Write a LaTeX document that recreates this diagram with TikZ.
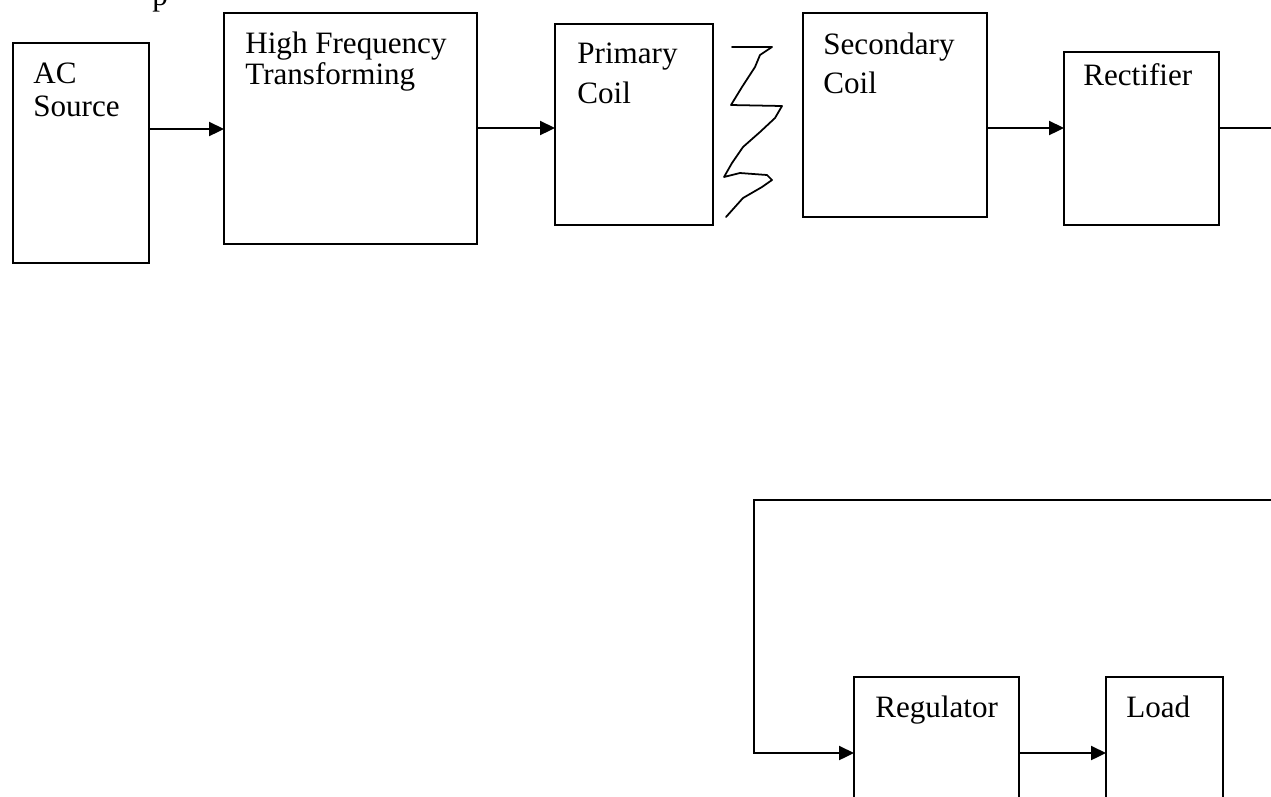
\documentclass[tikz,border=0pt]{standalone}
\usepackage{fontspec}
\setmainfont{Liberation Serif}
\usepackage{tikz}
\usetikzlibrary{arrows.meta}

\begin{document}
\begin{tikzpicture}[x=0.02cm, y=-0.02cm, >={Triangle[length=0.3cm, width=0.28cm]}, thin]
  \tikzstyle{block}=[draw, line width=0.8pt, anchor=north west, inner sep=0pt, outer sep=0pt]
  \tikzstyle{txt}=[anchor=north west, inner sep=0pt, align=left, font=\fontsize{17.7pt}{19pt}\selectfont]
  \tikzstyle{arr}=[->, line width=1.3pt]

  \useasboundingbox (0,0) rectangle (1271,796);
  \clip (0,0) rectangle (1271,796);

  % top row
	\node[block, minimum width=2.72cm, minimum height=4.40cm] (ac)  at (13,43)   {};
	\node[block, minimum width=5.06cm, minimum height=4.62cm] (hf)  at (224,13)  {};
	\node[block, minimum width=3.16cm, minimum height=4.02cm] (pri) at (555,24)  {};
	\node[block, minimum width=3.68cm, minimum height=4.08cm] (sec) at (803,13)  {};
	\node[block, minimum width=3.10cm, minimum height=3.46cm] (rec) at (1064,52) {};

  % bottom row (cut off by the page)
	\node[block, minimum width=3.30cm, minimum height=3.66cm] (reg)  at (854,677)  {};
	\node[block, minimum width=2.34cm, minimum height=3.66cm] (load) at (1106,677) {};

  % labels
	\node[txt] (actxt)   at (33,63)    {AC\\[-0.4pt]Source};
	\node[txt] (hftxt)   at (245,32)   {High Frequency\\[-1.6pt]Transforming};
	\node[txt] (pritxt)  at (577,43)   {Primary\\[3.6pt]Coil};
	\node[txt] (sectxt)  at (823,33)   {Secondary\\[3.1pt]Coil};
	\node[txt] (rectxt)  at (1083,63)  {Rectifier};
	\node[txt] (regtxt)  at (875,696)  {Regulator};
	\node[txt] (loadtxt) at (1126,696) {Load};
	\node[anchor=base west, inner sep=0pt, font=\fontsize{17.7pt}{19pt}\selectfont] (top) at (152,5) {p};

  % coupling between the coils
	\draw[line width=1pt, line join=round, line cap=round]
		(732,47) -- (772,47) -- (760,55) -- (755,67) -- (742,87) -- (731,105)
		-- (782,106) -- (775,118) -- (760,132) -- (743,147) -- (732,163) -- (724,177)
		-- (740,173) -- (767,175) -- (772,180) -- (762,187) -- (743,198) -- (726,217);

	\coordinate (outR) at (1275,128);
	\coordinate (fbR)  at (1275,500);
	\coordinate (fbL)  at (754,500);

	\draw[arr] (ac.east |- 0,129) -- (hf.west |- 0,129);
	\draw[arr] (hf.east |- 0,128) -- (pri.west |- 0,128);
	\draw[arr] (sec.east |- 0,128) -- (rec.west |- 0,128);
	\draw[line width=1.1pt] (rec.east |- 0,128) -- (outR);
	\draw[arr] (fbR) -- (fbL) |- (reg.west |- 0,753);
	\draw[arr] (reg.east |- 0,753) -- (load.west |- 0,753);

\end{tikzpicture}
\end{document}
